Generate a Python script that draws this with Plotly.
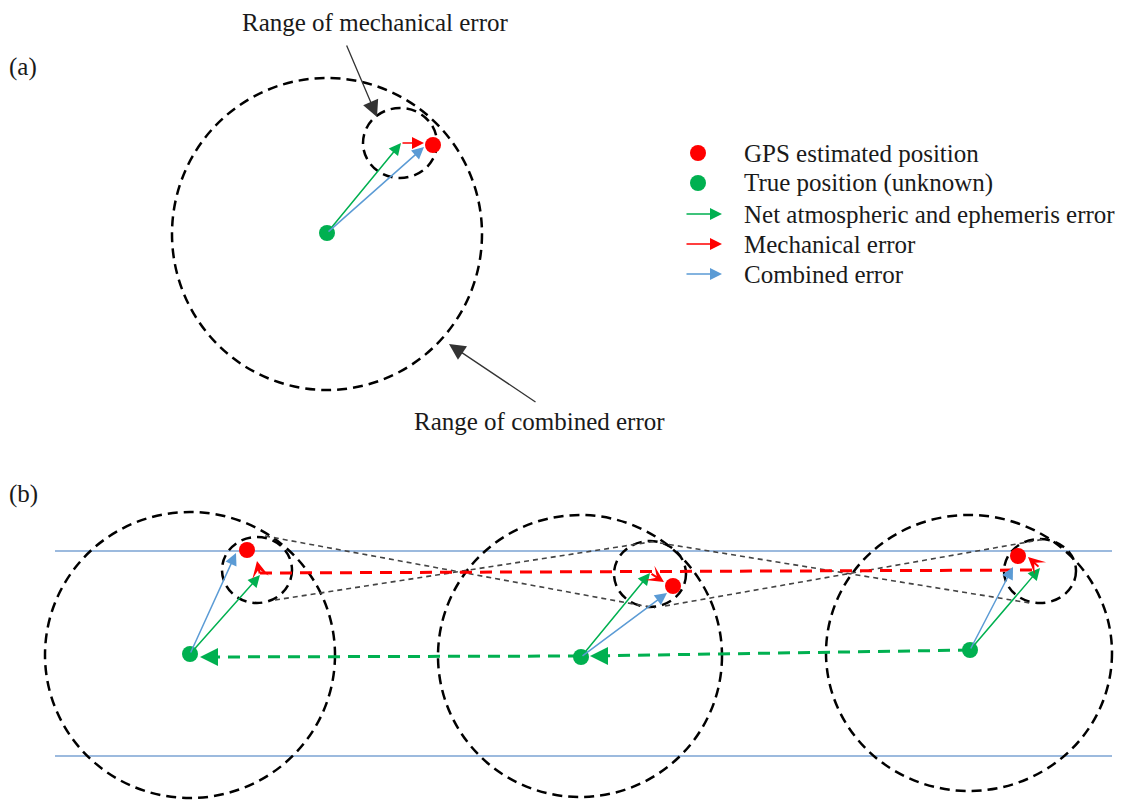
import plotly.graph_objects as go

W, H = 1124, 801

# ---------------- Panel (a) data (pixel-space diagram units) ----------------
a_true_pos = [327, 233]
a_gps_pos = [433, 145]
a_atm_tip = [401, 143]
a_mech_tip = [424, 143]
a_comb_tip = [424, 147]
a_big_circle = [327, 234, 155, 156]      # cx, cy, rx, ry
a_small_circle = [400, 143, 37, 35]      # cx, cy, rx, ry

# ---------------- Panel (b) data ----------------
b_true_x = [190, 581, 970]
b_true_y = [654, 657, 650]
b_gps_x = [247, 673, 1018]
b_gps_y = [550, 586, 556]
b_atm_tip_x = [260, 650, 1040]
b_atm_tip_y = [575, 573, 568]
b_mech_tip_x = [257, 664, 1028]
b_mech_tip_y = [561, 582, 557]
b_comb_tip_x = [236, 667, 1013]
b_comb_tip_y = [553, 593, 567]
b_big_cx = [190, 580, 969]
b_big_cy = [655, 656, 653]
b_big_rx = [145, 142, 143]
b_big_ry = [143, 141, 138]
b_small_cx = [257, 650, 1040]
b_small_cy = [570, 574, 571]
b_small_rx = [35, 36, 36]
b_small_ry = [33, 33, 32]
# thin dotted connectors between small circles: (x0, y0, x1, y1)
conn_x0 = [265, 275, 660, 665]
conn_y0 = [536, 600, 543, 606]
conn_x1 = [655, 657, 1030, 1045]
conn_y1 = [608, 541, 603, 539]
# red dashed (mechanical error track) and green dashed (true track)
red_track_x = [260, 1040]
red_track_y = [573, 570]
green_seg_x0 = [970, 580]
green_seg_y0 = [650, 656]
green_seg_tip_x = [590, 200]
green_seg_tip_y = [656, 657]
# road edges
road_x = [55, 1112]
road_y = [551, 756]

# ---------------- Text ----------------
panel_labels = ["(a)", "(b)"]
panel_label_pos = [(7, 67), (7, 494)]
mech_label = "Range of mechanical error"
mech_label_pos = (375, 22)
mech_arrow = (346, 44, 377, 117)   # tail x, tail y, tip x, tip y
comb_label = "Range of combined error"
comb_label_pos = (539, 421)
comb_arrow = (537, 403, 449, 344)
legend_labels = ["GPS estimated position", "True position (unknown)",
                 "Net atmospheric and ephemeris error", "Mechanical error",
                 "Combined error"]
legend_y = [153, 183, 214, 244, 274]
legend_sym_x = 698
legend_text_x = 742
legend_arrow_x = [685, 722]

RED = "#FF0000"
GREEN = "#00B050"
BLUE = "#5B9BD5"
BLACK = "#000000"
FONT = "Liberation Serif"
FS = 25

fig = go.Figure()
shapes = []
annotations = []


def ellipse(cx, cy, rx, ry, width=2.5, dash="10px,6px", color=BLACK):
    shapes.append(dict(type="circle", xref="x", yref="y", layer="below",
                       x0=cx - rx, x1=cx + rx, y0=cy - ry, y1=cy + ry,
                       line=dict(color=color, width=width, dash=dash)))


def line(x0, y0, x1, y1, color, width, dash="solid"):
    shapes.append(dict(type="line", xref="x", yref="y", layer="below",
                       x0=x0, y0=y0, x1=x1, y1=y1,
                       line=dict(color=color, width=width, dash=dash)))


def arrow(x0, y0, x1, y1, color, width=1.5, size=1.6, head=2):
    annotations.append(dict(x=x1, y=y1, ax=x0, ay=y0, xref="x", yref="y",
                            axref="x", ayref="y", text="", showarrow=True,
                            arrowhead=head, arrowsize=size, arrowwidth=width,
                            arrowcolor=color, standoff=0, startstandoff=0))


def text(t, x, y, size=FS, anchor="center"):
    annotations.append(dict(x=x, y=y, xref="x", yref="y", text=t,
                            showarrow=False, xanchor=anchor, yanchor="middle",
                            font=dict(family=FONT, size=size, color="#1a1a1a")))


# ---- panel (a) ----
ellipse(*a_big_circle)
ellipse(*a_small_circle)
arrow(a_true_pos[0], a_true_pos[1], a_atm_tip[0], a_atm_tip[1], GREEN)
arrow(a_true_pos[0], a_true_pos[1], a_comb_tip[0], a_comb_tip[1], BLUE)
arrow(a_atm_tip[0], a_atm_tip[1], a_mech_tip[0], a_mech_tip[1], RED)

# ---- panel (b) ----
for y in road_y:
    line(road_x[0], y, road_x[1], y, "#7BA3D3", 1.3)
for i in range(3):
    ellipse(b_big_cx[i], b_big_cy[i], b_big_rx[i], b_big_ry[i])
    ellipse(b_small_cx[i], b_small_cy[i], b_small_rx[i], b_small_ry[i])
for i in range(len(conn_x0)):
    line(conn_x0[i], conn_y0[i], conn_x1[i], conn_y1[i], "#444444", 1.6, "5px,4px")
line(red_track_x[0], red_track_y[0], red_track_x[1], red_track_y[1], RED, 3, "12px,8px")
for i in range(len(green_seg_x0)):
    line(green_seg_x0[i], green_seg_y0[i], green_seg_tip_x[i], green_seg_tip_y[i],
         GREEN, 3, "12px,8px")
    arrow(green_seg_tip_x[i] + 14, green_seg_tip_y[i], green_seg_tip_x[i],
          green_seg_tip_y[i], GREEN, width=3, size=1.2)
for i in range(3):
    arrow(b_true_x[i], b_true_y[i], b_atm_tip_x[i], b_atm_tip_y[i], GREEN)
    arrow(b_true_x[i], b_true_y[i], b_comb_tip_x[i], b_comb_tip_y[i], BLUE)
    arrow(b_atm_tip_x[i], b_atm_tip_y[i], b_mech_tip_x[i], b_mech_tip_y[i], RED,
          width=2, size=1.4, head=3)

# ---- dots ----
fig.add_trace(go.Scatter(x=[a_true_pos[0]] + b_true_x, y=[a_true_pos[1]] + b_true_y,
                         mode="markers", marker=dict(color=GREEN, size=16),
                         hoverinfo="skip", showlegend=False))
fig.add_trace(go.Scatter(x=[a_gps_pos[0]] + b_gps_x, y=[a_gps_pos[1]] + b_gps_y,
                         mode="markers", marker=dict(color=RED, size=16),
                         hoverinfo="skip", showlegend=False))

# ---- legend (drawn manually) ----
fig.add_trace(go.Scatter(x=[legend_sym_x, legend_sym_x], y=legend_y[:2],
                         mode="markers", marker=dict(color=[RED, GREEN], size=16),
                         hoverinfo="skip", showlegend=False))
for yv, col in zip(legend_y[2:], [GREEN, RED, BLUE]):
    arrow(legend_arrow_x[0], yv, legend_arrow_x[1], yv, col, width=1.5, size=1.6)
for lab, yv in zip(legend_labels, legend_y):
    text(lab, legend_text_x, yv, anchor="left")

# ---- labels & callouts ----
for lab, (x, y) in zip(panel_labels, panel_label_pos):
    text(lab, x, y, anchor="left")
text(mech_label, *mech_label_pos)
text(comb_label, *comb_label_pos)
arrow(mech_arrow[0], mech_arrow[1], mech_arrow[2], mech_arrow[3], "#333333",
      width=1.3, size=2.5)
arrow(comb_arrow[0], comb_arrow[1], comb_arrow[2], comb_arrow[3], "#333333",
      width=1.3, size=2.5)

fig.update_layout(
    width=W, height=H, margin=dict(l=0, r=0, t=0, b=0),
    paper_bgcolor="white", plot_bgcolor="white",
    xaxis=dict(range=[0, W], visible=False, fixedrange=True),
    yaxis=dict(range=[H, 0], visible=False, fixedrange=True),
    shapes=shapes, annotations=annotations, showlegend=False,
)
fig.write_html("out.html")
